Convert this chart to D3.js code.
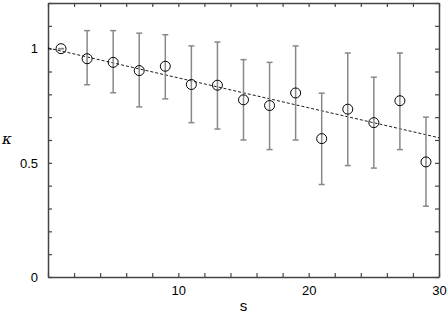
<!DOCTYPE html>
<html lang="en">
<head>
  <meta charset="UTF-8" />
  <title>kappa vs s</title>
  <style>
    *{margin:0;padding:0}
    body{background:#fff;font-family:"Liberation Sans",Arial,sans-serif}
    svg text{fill:#000}
  </style>
</head>
<body>
  <div id="chart"></div>
  <script src="https://d3js.org/d3.v7.min.js"></script>
  <script>
    // data
    const sVals   = [1, 3, 5, 7, 9, 11, 13, 15, 17, 19, 21, 23, 25, 27, 29];
    const kappa   = [1.0, 0.956, 0.94, 0.904, 0.923, 0.843, 0.84, 0.776, 0.751, 0.806, 0.606, 0.735, 0.676, 0.772, 0.504];
    const errHi   = [1.0, 1.079, 1.079, 1.068, 1.061, 1.012, 1.029, 0.952, 0.94, 1.012, 0.805, 0.981, 0.875, 0.981, 0.70];
    const errLo   = [1.0, 0.842, 0.807, 0.745, 0.78, 0.676, 0.648, 0.60, 0.558, 0.60, 0.405, 0.488, 0.477, 0.558, 0.31];
    const fitLine = [[0, 1.003], [30, 0.61]];
    const xTickLabels = [10, 20, 30];
    const yTickLabels = [0, 0.5, 1];

    const W = 448, H = 317;
    const m = {l:48, r:9, t:3, b:40};
    const iw = W - m.l - m.r, ih = H - m.t - m.b;

    const x = d3.scaleLinear().domain([0, 30]).range([m.l, m.l + iw]);
    const y = d3.scaleLinear().domain([0, 1.2]).range([m.t + ih, m.t]);

    const svg = d3.select('#chart').append('svg')
      .attr('width', W).attr('height', H);

    const axisCol = '#444';
    const xTicks = d3.range(0, 31, 2), yTicks = d3.range(0, 1.21, 0.1);
    const fmt = d => xTickLabels.includes(d) ? d : '';
    const fmtY = d => { const v = +d.toFixed(2); return yTickLabels.includes(v) ? String(v) : ''; };

    // inward ticks on all four sides
    const gBottom = svg.append('g').attr('transform', `translate(0,${y(0)})`)
      .call(d3.axisBottom(x).tickValues(xTicks).tickSizeInner(-4).tickSizeOuter(0).tickPadding(9).tickFormat(fmt));
    const gTop = svg.append('g').attr('transform', `translate(0,${y(1.2)})`)
      .call(d3.axisTop(x).tickValues(xTicks).tickSizeInner(-4).tickSizeOuter(0).tickFormat(''));
    const gLeft = svg.append('g').attr('transform', `translate(${x(0)},0)`)
      .call(d3.axisLeft(y).tickValues(yTicks).tickSizeInner(-4).tickSizeOuter(0).tickPadding(10).tickFormat(fmtY));
    const gRight = svg.append('g').attr('transform', `translate(${x(30)},0)`)
      .call(d3.axisRight(y).tickValues(yTicks).tickSizeInner(-4).tickSizeOuter(0).tickFormat(''));

    [gBottom, gTop, gLeft, gRight].forEach(g => {
      g.selectAll('.domain').attr('stroke', axisCol).attr('stroke-width', 1.5);
      g.selectAll('.tick line').attr('stroke', axisCol).attr('stroke-width', 1.2);
      g.selectAll('text').attr('font-size', 13).attr('font-family', '"Liberation Sans",Arial,sans-serif').attr('fill', '#000');
    });

    // fitted line
    svg.append('path')
      .datum(fitLine)
      .attr('d', d3.line().x(d => x(d[0])).y(d => y(d[1])))
      .attr('fill', 'none').attr('stroke', '#000').attr('stroke-width', 0.9)
      .attr('stroke-dasharray', '3,2');

    const pts = sVals.map((s, i) => ({s, k: kappa[i], hi: errHi[i], lo: errLo[i]}));

    // error bars
    const eb = svg.append('g').attr('stroke', '#888').attr('stroke-width', 1.5);
    eb.selectAll('line.v').data(pts).join('line').attr('class', 'v')
      .attr('x1', d => x(d.s)).attr('x2', d => x(d.s))
      .attr('y1', d => y(d.hi)).attr('y2', d => y(d.lo));
    eb.selectAll('line.h').data(pts.flatMap(d => [[d.s, d.hi], [d.s, d.lo]])).join('line').attr('class', 'h')
      .attr('x1', d => x(d[0]) - 3).attr('x2', d => x(d[0]) + 3)
      .attr('y1', d => y(d[1])).attr('y2', d => y(d[1]));

    // markers
    svg.append('g').selectAll('circle').data(pts).join('circle')
      .attr('cx', d => x(d.s)).attr('cy', d => y(d.k)).attr('r', 5)
      .attr('fill', 'none').attr('stroke', '#000').attr('stroke-width', 1);

    // axis labels
    svg.append('text').attr('x', x(15)).attr('y', 311).attr('text-anchor', 'middle')
      .attr('font-size', 15).text('s');
    svg.append('text').attr('x', 7).attr('y', 144).attr('text-anchor', 'middle')
      .attr('font-size', 15).attr('font-style', 'italic').attr('font-family', '"DejaVu Serif",serif').text('κ');
  </script>
</body>
</html>
